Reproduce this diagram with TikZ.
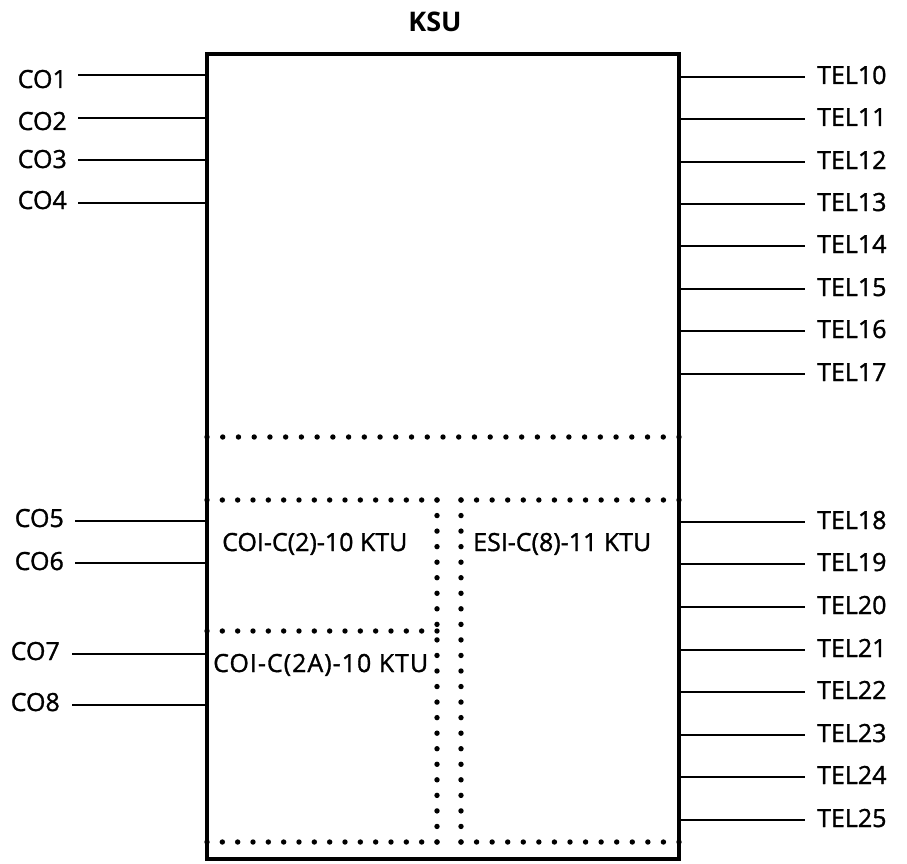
\documentclass[tikz,border=0pt]{standalone}
\usepackage{fontspec}
\setmainfont{Open Sans}
\newfontfamily\lblfont[FakeBold=1.2]{Open Sans}
\newfontfamily\lblwidefont[FakeBold=1.2,LetterSpace=4]{Open Sans}
\begin{document}
\begin{tikzpicture}[x=1pt,y=-1pt,
  lbl/.style={inner sep=0pt, font=\lblfont\fontsize{25}{30}\selectfont},
  lead/.style={line width=2.5pt},
  frame/.style={draw, line width=4.2pt, inner sep=0pt, outer sep=0pt},
  dotline/.style={line width=5.4pt, line cap=round, dash pattern=on 0pt off #1}]
\useasboundingbox (0,0) rectangle (907,864);
\node[inner sep=0pt, font=\bfseries\fontsize{27}{32}\selectfont, anchor=base] (ksu) at (435,32) {KSU};
\node[frame, minimum width=472pt, minimum height=805pt, anchor=north west] (box) at (207,54) {};
% left CO leads
\foreach \n/\ly/\bx/\by/\sx in {1/75/67/88/78, 2/118/67/130/78, 3/160/67/168/78, 4/203/67/209/78,
  5/521/64/527/75, 6/563/64/570/75, 7/654/60/660/72, 8/705/60/711/72} {
  \node[lbl, anchor=base east] (co\n) at (\bx,\by) {CO\n};
  \coordinate (a\n) at (\sx,\ly);
  \draw[lead] (a\n) -- (a\n -| box.west);
}
% right TEL leads
\foreach \n/\ly in {10/77, 11/119, 12/162, 13/204, 14/246, 15/289, 16/331, 17/374,
  18/522, 19/564, 20/607, 21/650, 22/692, 23/735, 24/777, 25/820} {
  \coordinate (b\n) at (805,\ly);
  \node[lbl, anchor=base west] (tel\n) at (817,\ly+7) {TEL\n};
  \draw[lead] (b\n -| box.east) -- (b\n);
}
% dotted partitions
\coordinate (h1l) at (207,437); \coordinate (h1r) at (679,437);
\coordinate (h2l) at (207,500); \coordinate (h2m) at (437,500);
\coordinate (h2n) at (461,500); \coordinate (h2r) at (679,500);
\coordinate (h3l) at (207,631); \coordinate (h3m) at (437,631);
\coordinate (h4l) at (207,842); \coordinate (h4m) at (437,842);
\coordinate (h4n) at (461,842); \coordinate (h4r) at (679,842);
\draw[dotline=15.733pt] (h1l) -- (h1r);
\draw[dotline=15.333pt] (h2l) -- (h2m);
\draw[dotline=15.571pt] (h2n) -- (h2r);
\draw[dotline=15.333pt] (h3l) -- (h3m);
\draw[dotline=15.333pt] (h4l) -- (h4m);
\draw[dotline=15.571pt] (h4n) -- (h4r);
\draw[dotline=15.545pt] (h2m) -- (h4m);
\draw[dotline=15.545pt] (h2n) -- (h4n);
% unit labels
\node[lbl, anchor=base west] (coi2) at (222,551) {COI-C(2)-10 KTU};
\node[lbl, anchor=base west] (esi8) at (473,551) {ESI-C(8)-11 KTU};
\node[lbl, font=\lblwidefont\fontsize{25}{30}\selectfont, anchor=base west] (coi2a) at (213,672) {COI-C(2A)-10 KTU};
\end{tikzpicture}
\end{document}
